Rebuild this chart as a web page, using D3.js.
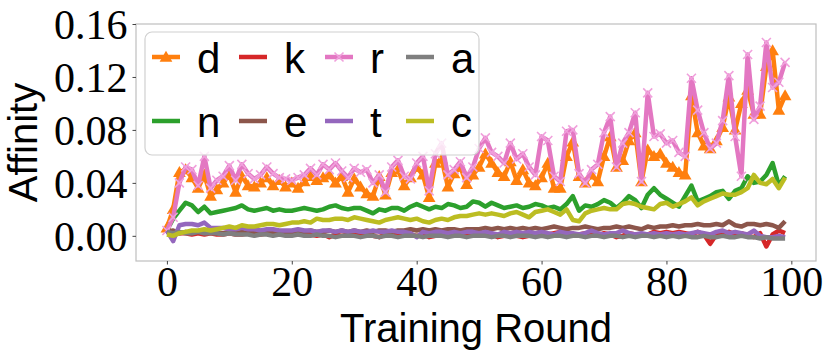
<!DOCTYPE html>
<meta charset="utf-8">
<script src="https://d3js.org/d3.v7.min.js"></script>
<style>
body { margin: 0; background: #fff; }
.lbl { font-family: "Liberation Sans", sans-serif; font-size: 40px; fill: #000; }
.leg { font-family: "Liberation Sans", sans-serif; font-size: 42px; fill: #000; }
</style>
<svg id="chart" width="831" height="363"></svg>
<script>
// training rounds 0..99
var rounds = d3.range(100);

var dVals = [0.006,0.020,0.048,0.050,0.044,0.036,0.046,0.030,0.035,0.040,
  0.046,0.033,0.045,0.038,0.037,0.040,0.044,0.038,0.042,0.037,
  0.040,0.036,0.041,0.045,0.042,0.044,0.046,0.040,0.045,0.033,
  0.043,0.037,0.032,0.030,0.045,0.031,0.048,0.050,0.038,0.044,
  0.052,0.046,0.029,0.055,0.058,0.037,0.047,0.052,0.039,0.046,
  0.052,0.062,0.055,0.048,0.045,0.056,0.042,0.050,0.040,0.038,
  0.044,0.055,0.036,0.036,0.060,0.071,0.045,0.040,0.046,0.041,
  0.060,0.075,0.052,0.057,0.072,0.078,0.041,0.065,0.060,0.062,
  0.055,0.052,0.048,0.046,0.106,0.078,0.068,0.066,0.072,0.082,
  0.105,0.080,0.100,0.110,0.092,0.092,0.128,0.140,0.095,0.106];

var nVals = [0.004,0.013,0.019,0.025,0.023,0.018,0.022,0.017,0.018,0.019,
  0.020,0.021,0.023,0.020,0.019,0.020,0.021,0.019,0.020,0.019,
  0.019,0.020,0.021,0.020,0.019,0.020,0.022,0.023,0.021,0.020,
  0.021,0.021,0.019,0.017,0.020,0.019,0.021,0.021,0.019,0.022,
  0.024,0.022,0.020,0.022,0.021,0.024,0.023,0.021,0.022,0.026,
  0.025,0.022,0.025,0.023,0.021,0.022,0.023,0.021,0.022,0.024,
  0.023,0.021,0.022,0.020,0.024,0.030,0.019,0.023,0.022,0.024,
  0.027,0.025,0.021,0.025,0.030,0.027,0.021,0.031,0.036,0.031,
  0.028,0.025,0.022,0.030,0.038,0.026,0.028,0.030,0.033,0.034,
  0.028,0.034,0.036,0.045,0.040,0.041,0.046,0.055,0.038,0.045];

var kVals = [0.002,0.003,0.002,0.002,0.001,0.002,0.001,0.002,0.001,0.001,
  0.002,0.001,0.001,0.002,0.001,0.001,0.002,0.001,0.001,0.001,
  0.001,0.001,0.002,0.001,0.000,0.001,-0.001,0.001,0.000,0.001,
  0.001,0.000,0.001,0.000,-0.001,0.001,0.000,0.001,0.000,0.001,
  0.000,0.001,-0.001,0.000,0.001,0.000,0.001,0.000,0.001,0.000,
  0.001,0.000,0.001,-0.001,0.000,0.001,0.000,-0.001,0.000,0.001,
  0.000,0.001,0.002,0.003,0.001,0.000,0.001,0.002,0.001,0.000,
  0.002,0.001,-0.001,0.000,0.002,0.001,0.000,0.001,0.003,0.002,
  0.003,0.002,0.003,0.002,0.001,0.003,0.001,-0.006,0.001,0.002,
  0.003,0.001,0.002,0.000,-0.001,0.002,-0.008,0.001,0.004,0.002];

var eVals = [0.003,0.004,0.002,0.003,0.002,0.003,0.002,0.003,0.002,0.002,
  0.003,0.002,0.003,0.002,0.003,0.002,0.003,0.003,0.002,0.003,
  0.003,0.002,0.003,0.004,0.003,0.003,0.004,0.003,0.004,0.003,
  0.004,0.003,0.004,0.003,0.004,0.004,0.003,0.004,0.004,0.005,
  0.004,0.005,0.004,0.005,0.004,0.005,0.005,0.004,0.005,0.005,
  0.005,0.006,0.005,0.006,0.005,0.006,0.005,0.006,0.005,0.006,
  0.005,0.006,0.007,0.006,0.005,0.006,0.006,0.007,0.006,0.005,
  0.006,0.006,0.007,0.006,0.007,0.006,0.005,0.007,0.006,0.007,
  0.007,0.008,0.007,0.008,0.008,0.009,0.008,0.008,0.009,0.008,
  0.011,0.008,0.007,0.009,0.009,0.008,0.009,0.008,0.006,0.011];

var rVals = [0.004,0.014,0.040,0.052,0.050,0.038,0.060,0.036,0.042,0.045,
  0.053,0.042,0.054,0.047,0.043,0.046,0.052,0.047,0.044,0.043,
  0.042,0.044,0.046,0.051,0.046,0.054,0.050,0.055,0.049,0.044,
  0.051,0.048,0.050,0.040,0.046,0.033,0.052,0.057,0.045,0.043,
  0.055,0.060,0.034,0.062,0.070,0.046,0.050,0.056,0.044,0.052,
  0.066,0.074,0.063,0.060,0.055,0.070,0.058,0.062,0.052,0.046,
  0.075,0.072,0.045,0.041,0.079,0.080,0.047,0.040,0.050,0.054,
  0.078,0.090,0.052,0.070,0.078,0.093,0.041,0.108,0.075,0.077,
  0.070,0.072,0.063,0.060,0.119,0.095,0.078,0.066,0.070,0.087,
  0.121,0.075,0.045,0.137,0.088,0.098,0.146,0.112,0.116,0.131];

var tVals = [0.004,-0.004,0.008,0.009,0.009,0.008,0.010,0.006,0.006,0.006,
  0.005,0.005,0.006,0.005,0.005,0.004,0.005,0.005,0.004,0.004,
  0.004,0.005,0.004,0.004,0.003,0.004,0.004,0.003,0.004,0.003,
  0.004,0.003,0.003,0.004,0.003,0.003,0.004,0.003,0.003,0.002,
  -0.001,0.003,0.002,0.003,0.003,0.002,0.003,0.002,0.003,0.003,
  0.002,0.003,0.002,0.001,0.003,0.002,0.003,0.002,0.003,0.002,
  0.003,0.002,0.001,0.003,0.002,0.002,0.001,0.002,0.004,0.002,
  0.001,0.002,0.002,0.004,0.002,0.001,0.002,0.001,0.002,0.001,
  0.002,0.001,0.002,0.001,0.002,0.003,0.002,0.001,0.003,0.004,
  0.002,0.003,0.002,0.001,0.004,0.000,-0.001,-0.001,0.000,-0.001];

var aVals = [0.003,0.002,0.003,0.002,0.002,0.003,0.002,0.002,0.002,0.001,
  0.002,0.001,0.001,0.001,0.000,0.001,0.001,0.000,0.001,0.000,
  0.000,0.001,0.000,0.000,0.001,0.000,0.000,-0.001,0.000,0.000,
  0.000,-0.001,0.000,0.000,-0.001,0.000,0.000,-0.001,0.000,0.000,
  0.000,-0.001,0.000,0.000,0.000,-0.001,0.000,0.000,-0.001,0.000,
  0.000,0.000,-0.001,0.000,0.000,-0.001,0.000,0.000,0.000,-0.001,
  0.000,-0.001,0.000,0.000,-0.001,0.000,0.000,-0.001,0.000,0.000,
  -0.001,0.000,0.000,-0.001,0.000,-0.001,0.000,0.000,-0.001,0.000,
  -0.001,0.000,-0.001,0.000,-0.001,-0.001,0.000,-0.001,-0.001,0.000,
  -0.001,-0.001,0.000,-0.001,-0.001,-0.002,-0.001,-0.002,-0.002,-0.002];

var cVals = [0.001,0.000,0.002,0.003,0.004,0.004,0.005,0.004,0.005,0.006,
  0.007,0.006,0.008,0.007,0.007,0.008,0.009,0.009,0.008,0.009,
  0.010,0.010,0.011,0.010,0.013,0.012,0.012,0.013,0.013,0.012,
  0.014,0.013,0.012,0.011,0.010,0.012,0.013,0.014,0.013,0.012,
  0.013,0.011,0.010,0.012,0.013,0.012,0.014,0.015,0.015,0.016,
  0.017,0.016,0.017,0.016,0.015,0.017,0.018,0.016,0.014,0.018,
  0.019,0.020,0.018,0.016,0.020,0.012,0.011,0.017,0.019,0.020,
  0.021,0.020,0.020,0.024,0.025,0.024,0.022,0.021,0.020,0.024,
  0.025,0.022,0.024,0.026,0.029,0.023,0.026,0.028,0.030,0.032,
  0.031,0.031,0.033,0.036,0.046,0.040,0.039,0.043,0.036,0.044];

var names = ["d", "n", "k", "e", "r", "t", "a", "c"];
var colors = ["#ff7f0e", "#2ca02c", "#d62728", "#8c564b", "#e377c2", "#9467bd", "#7f7f7f", "#bcbd22"];
var markers = ["tri", null, null, null, "x", null, null, null];
var values = [dVals, nVals, kVals, eVals, rVals, tVals, aVals, cVals];

var xTicks = [0, 20, 40, 60, 80, 100];
var yTicks = [0.00, 0.04, 0.08, 0.12, 0.16];

var svg = d3.select("#chart");
var pLeft = 136, pRight = 816, pTop = 24, pBottom = 261;

var x = d3.scaleLinear().domain([-4.95, 103.95]).range([pLeft, pRight]);
var y = d3.scaleLinear().domain([-0.019, 0.16]).range([pBottom, pTop]);

// frame
svg.append("rect")
  .attr("x", pLeft).attr("y", pTop)
  .attr("width", pRight - pLeft).attr("height", pBottom - pTop)
  .attr("fill", "none").attr("stroke", "#bfbfbf").attr("stroke-width", 1.2);

var xAxis = svg.append("g")
  .attr("transform", "translate(0," + pBottom + ")")
  .call(d3.axisBottom(x).tickValues(xTicks).tickFormat(d3.format("d")).tickSize(3.5).tickPadding(4));
var yAxis = svg.append("g")
  .attr("transform", "translate(" + pLeft + ",0)")
  .call(d3.axisLeft(y).tickValues(yTicks).tickFormat(d3.format(".2f")).tickSize(3.5).tickPadding(5));
[xAxis, yAxis].forEach(function(g) {
  g.attr("font-family", "Liberation Serif").attr("font-size", 42);
  g.select(".domain").remove();
  g.selectAll(".tick line").attr("stroke", "#444");
  g.selectAll(".tick text")
    .style("font-family", "'Liberation Serif'")
    .style("font-size", "42px")
    .attr("fill", "#000");
});
xAxis.selectAll(".tick text").attr("dy", null).attr("y", 35);
yAxis.selectAll(".tick text").attr("dy", "0.34em");

// lines
var line = d3.line()
  .x(function(d, i) { return x(rounds[i]); })
  .y(function(d) { return y(d); });

var tri = d3.symbol().type(d3.symbolTriangle).size(70);

function drawMarker(g, kind, color, cx, cy) {
  if (kind === "tri") {
    g.append("path").attr("d", tri()).attr("transform", "translate(" + cx + "," + (cy + 1) + ")")
      .attr("fill", color);
  } else if (kind === "x") {
    var s = 4.5;
    g.append("path")
      .attr("d", "M" + (cx - s) + "," + (cy - s) + "L" + (cx + s) + "," + (cy + s) +
                 "M" + (cx - s) + "," + (cy + s) + "L" + (cx + s) + "," + (cy - s))
      .attr("stroke", color).attr("stroke-width", 1.6).attr("fill", "none");
  }
}

values.forEach(function(vals, k) {
  var g = svg.append("g");
  g.append("path")
    .datum(vals)
    .attr("d", line)
    .attr("fill", "none")
    .attr("stroke", colors[k])
    .attr("stroke-width", 4.5)
    .attr("stroke-linejoin", "round");
  if (markers[k]) {
    vals.forEach(function(v, i) {
      drawMarker(g, markers[k], markers[k] === "x" ? "#f0a0dc" : colors[k], x(rounds[i]), y(v));
    });
  }
});

// legend
var legend = svg.append("g");
legend.append("rect")
  .attr("x", 145).attr("y", 32).attr("width", 334).attr("height", 123)
  .attr("rx", 7)
  .attr("fill", "#fff").attr("fill-opacity", 0.8)
  .attr("stroke", "#d0d0d0").attr("stroke-width", 1.2);

var colX = [152, 239, 325, 406];
var rowY = [57, 121];
names.forEach(function(name, k) {
  var col = Math.floor(k / 2), row = k % 2;
  var hx = colX[col], hy = rowY[row];
  legend.append("line")
    .attr("x1", hx).attr("x2", hx + 28)
    .attr("y1", hy).attr("y2", hy)
    .attr("stroke", colors[k]).attr("stroke-width", 4.5);
  if (markers[k]) drawMarker(legend, markers[k], markers[k] === "x" ? "#f0a0dc" : colors[k], hx + 14, hy);
  legend.append("text")
    .attr("class", "leg")
    .attr("x", hx + 45).attr("y", hy + 16)
    .text(name);
});

// axis labels
svg.append("text")
  .attr("class", "lbl")
  .attr("x", (pLeft + pRight) / 2).attr("y", 342)
  .attr("text-anchor", "middle")
  .text("Training Round");

svg.append("text")
  .attr("class", "lbl")
  .attr("transform", "translate(37," + ((pTop + pBottom) / 2) + ") rotate(-90)")
  .attr("text-anchor", "middle")
  .text("Affinity");
</script>
